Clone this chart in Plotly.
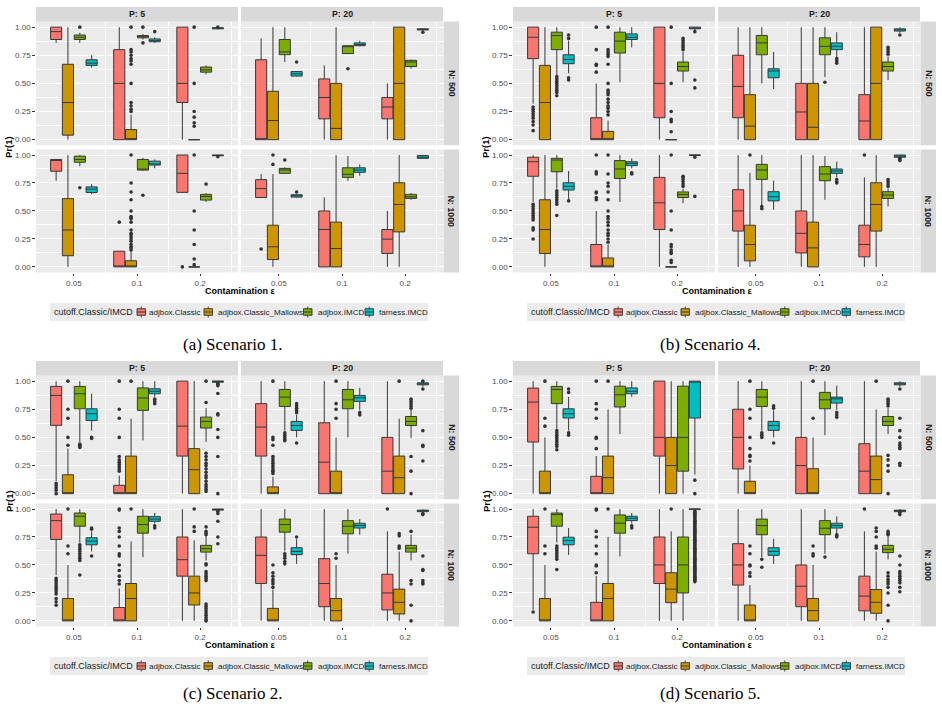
import plotly.graph_objects as go

W, H = 942, 713

# ---------------- categories / labels ----------------
EPS = ["0.05", "0.1", "0.2"]
METHODS = ["adjbox.Classic", "adjbox.Classic_Mallows", "adjbox.IMCD", "farness.IMCD"]
COLORS = ["#F8766D", "#CD9600", "#7CAE00", "#00BFC4"]
P_LABELS = ["P: 5", "P: 20"]
N_LABELS = ["N: 500", "N: 1000"]
CAPTIONS = ["(a) Scenario 1.", "(b) Scenario 4.", "(c) Scenario 2.", "(d) Scenario 5."]
LEGEND_TITLE = "cutoff.Classic/IMCD"
Y_TICKS = [0, 0.25, 0.5, 0.75, 1.0]
Y_TICKTEXT = ["0.00", "0.25", "0.50", "0.75", "1.00"]
Y_MINOR = [0.125, 0.375, 0.625, 0.875]

# Each box list: rows ordered eps (0.05, 0.1, 0.2) x method; (lower whisker, q1, median, q3, upper whisker)
# ---------------- Scenario 1 ----------------
s1_p5_n500_box = [
    (0.86, 0.89, 0.96, 1.00, 1.00), (0.00, 0.04, 0.33, 0.67, 1.00), (0.86, 0.89, 0.91, 0.93, 0.95), (0.64, 0.66, 0.68, 0.71, 0.75),
    (0.00, 0.00, 0.50, 0.80, 1.00), (0.00, 0.00, 0.00, 0.09, 0.22), (0.89, 0.905, 0.915, 0.925, 0.94), (0.86, 0.87, 0.88, 0.895, 0.91),
    (0.00, 0.33, 0.50, 1.00, 1.00), (0.00, 0.00, 0.00, 0.00, 0.00), (0.58, 0.60, 0.62, 0.645, 0.66), (0.98, 0.985, 0.99, 0.995, 0.995),
]
s1_p5_n500_out = [
    [], [], [1.0], [],
    [], [1.0, 0.8, 0.78, 0.75, 0.72, 0.70, 0.67, 0.50, 0.33, 0.30, 0.27, 0.25], [1.0, 0.86], [0.96],
    [], [1.0, 0.5, 0.25, 0.2, 0.15, 0.12], [], [1.0],
]
s1_p20_n500_box = [
    (0.00, 0.00, 0.00, 0.71, 0.90), (0.00, 0.00, 0.17, 0.43, 1.00), (0.69, 0.755, 0.78, 0.89, 1.00), (0.56, 0.565, 0.585, 0.605, 0.61),
    (0.00, 0.185, 0.375, 0.54, 0.66), (0.00, 0.00, 0.10, 0.50, 1.00), (0.76, 0.765, 0.83, 0.835, 0.84), (0.83, 0.835, 0.845, 0.86, 0.88),
    (0.00, 0.185, 0.29, 0.375, 0.50), (0.00, 0.00, 0.50, 1.00, 1.00), (0.63, 0.65, 0.69, 0.705, 0.71), (0.97, 0.975, 0.98, 0.985, 0.99),
]
s1_p20_n500_out = [[], [], [], [0.69], [], [], [0.63], [], [], [], [], [0.955]]
s1_p5_n1000_box = [
    (0.77, 0.855, 0.955, 0.96, 0.96), (0.00, 0.10, 0.33, 0.61, 1.00), (0.90, 0.935, 0.96, 0.99, 1.00), (0.65, 0.665, 0.695, 0.715, 0.74),
    (0.00, 0.00, 0.00, 0.14, 0.14), (0.00, 0.00, 0.00, 0.055, 0.135), (0.86, 0.865, 0.87, 0.96, 0.975), (0.88, 0.91, 0.92, 0.945, 0.96),
    (0.666, 0.666, 0.836, 1.00, 1.00), (0.00, 0.00, 0.00, 0.00, 0.00), (0.58, 0.597, 0.63, 0.648, 0.66), (0.99, 0.993, 0.997, 1.00, 1.00),
]
s1_p5_n1000_out = [
    [], [], [0.707], [],
    [0.40], [1.0, 0.75, 0.67, 0.60, 0.50, 0.45, 0.44, 0.43, 0.40, 0.33, 0.30, 0.29, 0.27, 0.25, 0.23, 0.20, 0.18, 0.17, 0.15], [0.64], [],
    [0.0], [1.0, 0.5, 0.33, 0.2, 0.07, 0.02], [0.74], [0.985],
]
s1_p20_n1000_box = [
    (0.62, 0.62, 0.70, 0.78, 0.83), (0.00, 0.066, 0.18, 0.373, 0.83), (0.83, 0.836, 0.866, 0.88, 0.89), (0.62, 0.624, 0.635, 0.645, 0.648),
    (0.00, 0.00, 0.334, 0.50, 0.62), (0.00, 0.00, 0.164, 0.40, 1.00), (0.77, 0.80, 0.827, 0.886, 0.99), (0.815, 0.845, 0.866, 0.886, 0.916),
    (0.00, 0.12, 0.248, 0.334, 0.50), (0.00, 0.313, 0.558, 0.752, 1.00), (0.60, 0.612, 0.627, 0.648, 0.66), (0.965, 0.97, 0.98, 0.995, 1.00),
]
s1_p20_n1000_out = [[0.16], [1.0, 0.916], [0.955], [0.67], [], [], [], [], [], [], [], []]

# ---------------- Scenario 4 ----------------
s4_p5_n500_box = [
    (0.32, 0.72, 0.91, 1.00, 1.00), (0.00, 0.00, 0.33, 0.66, 1.00), (0.57, 0.80, 0.925, 0.955, 1.00), (0.59, 0.675, 0.713, 0.754, 0.88),
    (0.00, 0.00, 0.00, 0.195, 0.50), (0.00, 0.00, 0.00, 0.074, 0.17), (0.51, 0.77, 0.876, 0.955, 1.00), (0.82, 0.89, 0.91, 0.94, 1.00),
    (0.00, 0.195, 0.50, 1.00, 1.00), (0.00, 0.00, 0.00, 0.00, 0.00), (0.51, 0.61, 0.65, 0.69, 0.78), (0.97, 0.985, 0.99, 1.00, 1.00),
]
s4_p5_n500_out = [
    [0.29, 0.27, 0.25, 0.23, 0.21, 0.19, 0.16, 0.13, 0.08], [], [0.56, 0.54, 0.52, 0.50, 0.48, 0.46, 0.44, 0.42, 0.39], [0.93, 0.90, 0.55, 0.53],
    [1.0, 0.80, 0.67, 0.66, 0.60], [1.0, 0.80, 0.78, 0.76, 0.74, 0.67, 0.50, 0.44, 0.42, 0.40, 0.36, 0.33, 0.30, 0.28, 0.25, 0.22], [], [],
    [], [1.0, 0.5, 0.25, 0.18, 0.16, 0.07], [0.80, 0.82, 0.84, 0.86, 0.88, 0.90], [0.96, 0.53, 0.46],
]
s4_p20_n500_box = [
    (0.00, 0.195, 0.473, 0.75, 1.00), (0.00, 0.00, 0.12, 0.40, 1.00), (0.50, 0.754, 0.86, 0.926, 1.00), (0.45, 0.55, 0.61, 0.63, 0.78),
    (0.00, 0.00, 0.246, 0.50, 1.00), (0.00, 0.00, 0.11, 0.50, 1.00), (0.556, 0.754, 0.83, 0.905, 1.00), (0.73, 0.80, 0.83, 0.86, 0.955),
    (0.00, 0.00, 0.166, 0.40, 1.00), (0.00, 0.00, 0.50, 1.00, 1.00), (0.53, 0.61, 0.65, 0.69, 0.74), (0.95, 0.965, 0.975, 0.985, 1.00),
]
s4_p20_n500_out = [[], [], [], [], [], [], [0.51], [0.72, 0.70, 0.68], [], [], [0.76, 0.78, 0.80, 0.82], [0.93]]
s4_p5_n1000_box = [
    (0.58, 0.81, 0.94, 0.98, 1.00), (0.00, 0.12, 0.334, 0.60, 1.00), (0.70, 0.85, 0.955, 0.97, 1.00), (0.60, 0.687, 0.72, 0.752, 0.857),
    (0.00, 0.00, 0.00, 0.20, 0.50), (0.00, 0.00, 0.00, 0.08, 0.20), (0.58, 0.79, 0.875, 0.95, 1.00), (0.88, 0.905, 0.925, 0.94, 0.97),
    (0.00, 0.334, 0.573, 0.80, 1.00), (0.00, 0.00, 0.00, 0.00, 0.00), (0.57, 0.62, 0.647, 0.67, 0.70), (0.99, 0.995, 1.00, 1.00, 1.00),
]
s4_p5_n1000_out = [
    [0.56, 0.54, 0.52, 0.50, 0.48, 0.46, 0.44, 0.42, 0.35, 0.33, 0.25], [], [0.68, 0.66, 0.64, 0.62, 0.60, 0.58, 0.56, 0.46], [0.59],
    [1.0, 0.85, 0.83, 0.67, 0.66, 0.62, 0.60], [1.0, 0.83, 0.75, 0.72, 0.67, 0.60, 0.50, 0.45, 0.43, 0.40, 0.37, 0.33, 0.30, 0.28, 0.25, 0.22], [], [0.84, 0.83],
    [], [1.0, 0.5, 0.33, 0.2, 0.18, 0.15, 0.13, 0.12, 0.06, 0.04], [0.72, 0.74, 0.76, 0.78, 0.80, 0.81], [0.98, 0.63],
]
s4_p20_n1000_box = [
    (0.00, 0.32, 0.50, 0.69, 1.00), (0.00, 0.054, 0.20, 0.373, 0.84), (0.55, 0.782, 0.866, 0.916, 1.00), (0.51, 0.59, 0.627, 0.672, 0.77),
    (0.00, 0.125, 0.30, 0.50, 1.00), (0.00, 0.00, 0.17, 0.40, 1.00), (0.60, 0.77, 0.83, 0.896, 0.99), (0.80, 0.836, 0.857, 0.875, 0.94),
    (0.00, 0.09, 0.20, 0.373, 0.80), (0.00, 0.32, 0.558, 0.752, 1.00), (0.54, 0.612, 0.642, 0.672, 0.70), (0.975, 0.98, 0.99, 1.00, 1.00),
]
s4_p20_n1000_out = [[], [1.0], [0.54, 0.52], [], [], [], [], [0.78, 0.76, 0.75], [1.0], [], [0.72, 0.74, 0.76, 0.78], [0.97, 0.96, 0.95]]

# ---------------- Scenario 2 ----------------
s2_p5_n500_box = [
    (0.11, 0.607, 0.873, 0.953, 1.00), (0.00, 0.00, 0.00, 0.168, 0.40), (0.46, 0.754, 0.888, 0.953, 1.00), (0.56, 0.65, 0.71, 0.754, 0.888),
    (0.00, 0.00, 0.00, 0.074, 0.16), (0.00, 0.00, 0.00, 0.334, 0.666), (0.473, 0.74, 0.85, 0.94, 1.00), (0.86, 0.888, 0.91, 0.932, 1.00),
    (0.00, 0.334, 0.60, 1.00, 1.00), (0.00, 0.00, 0.213, 0.40, 1.00), (0.46, 0.583, 0.642, 0.68, 0.76), (0.99, 0.99, 1.00, 1.00, 1.00),
]
s2_p5_n500_out = [
    [0.09, 0.07, 0.05, 0.03, 0.0], [1.0, 0.75, 0.67, 0.50, 0.43], [0.44, 0.43, 0.42, 0.41], [0.50, 0.49],
    [1.0, 0.75, 0.67, 0.50, 0.33, 0.30, 0.28, 0.26, 0.24, 0.22, 0.20], [1.0], [], [0.84, 0.82, 0.80],
    [], [], [1.0, 0.81, 0.36, 0.33, 0.30, 0.27, 0.25, 0.22, 0.19, 0.16, 0.14, 0.11, 0.08, 0.06, 0.04, 0.02],
    [0.98, 0.97, 0.96, 0.89, 0.71, 0.70, 0.57, 0.50, 0.33, 0.0],
]
s2_p20_n500_box = [
    (0.00, 0.334, 0.592, 0.80, 1.00), (0.00, 0.00, 0.00, 0.06, 0.15), (0.56, 0.775, 0.858, 0.926, 1.00), (0.50, 0.562, 0.606, 0.642, 0.70),
    (0.00, 0.00, 0.28, 0.63, 1.00), (0.00, 0.00, 0.00, 0.20, 0.50), (0.50, 0.754, 0.834, 0.926, 1.00), (0.74, 0.82, 0.852, 0.873, 0.94),
    (0.00, 0.00, 0.20, 0.50, 1.00), (0.00, 0.00, 0.142, 0.334, 0.666), (0.494, 0.606, 0.642, 0.686, 0.75), (0.95, 0.967, 0.975, 0.985, 0.99),
]
s2_p20_n500_out = [
    [], [1.0, 0.50, 0.48, 0.43, 0.33, 0.31, 0.29, 0.27, 0.25, 0.23, 0.21, 0.20, 0.18], [0.54, 0.52, 0.50, 0.48, 0.47], [0.80, 0.78, 0.76, 0.74, 0.72, 0.45],
    [], [1.0, 0.80, 0.75, 0.67], [], [0.72, 0.70],
    [], [1.0], [0.84, 0.82, 0.80, 0.78, 0.76, 0.33, 0.20, 0.0], [1.0, 0.93, 0.56, 0.43, 0.42, 0.29],
]
s2_p5_n1000_box = [
    (0.41, 0.728, 0.896, 0.955, 1.00), (0.00, 0.00, 0.00, 0.20, 0.50), (0.70, 0.846, 0.935, 0.964, 1.00), (0.62, 0.68, 0.713, 0.743, 0.80),
    (0.00, 0.00, 0.00, 0.12, 0.29), (0.00, 0.00, 0.20, 0.334, 0.71), (0.57, 0.784, 0.861, 0.935, 1.00), (0.87, 0.89, 0.91, 0.932, 0.965),
    (0.00, 0.40, 0.547, 0.75, 1.00), (0.00, 0.142, 0.25, 0.40, 0.72), (0.54, 0.615, 0.645, 0.675, 0.76), (0.99, 0.99, 0.995, 1.00, 1.00),
]
s2_p5_n1000_out = [
    [0.38, 0.36, 0.34, 0.32, 0.30, 0.28, 0.26, 0.24, 0.20, 0.17, 0.14], [1.0, 0.67, 0.60], [0.68, 0.66, 0.64, 0.62, 0.60, 0.58, 0.56, 0.54, 0.41], [0.83, 0.82, 0.58],
    [1.0, 0.99, 0.83, 0.80, 0.75, 0.67, 0.60, 0.58, 0.50, 0.45, 0.40, 0.36, 0.33], [1.0], [], [0.85, 0.83],
    [], [1.0, 0.84, 0.80],
    [0.84, 0.80, 0.78, 0.77, 0.51, 0.50, 0.44, 0.42, 0.40, 0.38, 0.36, 0.15, 0.13, 0.11, 0.09, 0.07, 0.05, 0.03, 0.01, 0.0],
    [0.98, 0.96, 0.89, 0.75, 0.69],
]
s2_p20_n1000_box = [
    (0.00, 0.334, 0.586, 0.75, 1.00), (0.00, 0.00, 0.00, 0.112, 0.28), (0.62, 0.793, 0.861, 0.91, 1.00), (0.51, 0.592, 0.621, 0.654, 0.73),
    (0.00, 0.127, 0.334, 0.556, 1.00), (0.00, 0.00, 0.092, 0.20, 0.50), (0.60, 0.778, 0.846, 0.896, 1.00), (0.77, 0.83, 0.852, 0.873, 0.91),
    (0.00, 0.098, 0.25, 0.417, 0.80), (0.00, 0.062, 0.166, 0.284, 0.62), (0.54, 0.615, 0.65, 0.675, 0.77), (0.97, 0.976, 0.985, 0.99, 0.995),
]
s2_p20_n1000_out = [
    [], [0.50, 0.43, 0.40, 0.37, 0.35, 0.33, 0.30], [0.60, 0.58, 0.56, 0.53, 0.51], [0.75],
    [], [0.60, 0.56], [], [],
    [1.0], [0.78, 0.76, 0.67, 0.65], [0.80, 0.36, 0.33, 0.14, 0.0], [0.96, 0.95, 0.58, 0.46, 0.45, 0.36, 0.34, 0.33],
]

# ---------------- Scenario 5 ----------------
s5_p5_n500_box = [
    (0.00, 0.459, 0.814, 0.938, 1.00), (0.00, 0.00, 0.00, 0.20, 0.50), (0.577, 0.80, 0.926, 0.953, 1.00), (0.56, 0.672, 0.71, 0.754, 0.86),
    (0.00, 0.00, 0.00, 0.154, 0.334), (0.00, 0.00, 0.142, 0.334, 0.75), (0.53, 0.77, 0.879, 0.955, 1.00), (0.86, 0.888, 0.91, 0.94, 1.00),
    (0.00, 0.334, 0.50, 1.00, 1.00), (0.00, 0.00, 0.25, 0.50, 1.00), (0.00, 0.20, 0.50, 0.955, 1.00), (0.17, 0.672, 1.00, 1.00, 1.00),
]
s5_p5_n500_out = [
    [], [1.0, 0.67, 0.60], [0.56, 0.54, 0.52, 0.50, 0.48, 0.46, 0.44, 0.42, 0.39], [0.90, 0.93, 0.54, 0.52],
    [1.0, 0.80, 0.75, 0.67, 0.50, 0.49, 0.40], [1.0], [], [],
    [], [], [], [0.12, 0.0],
]
s5_p20_n500_box = [
    (0.00, 0.22, 0.50, 0.75, 1.00), (0.00, 0.00, 0.00, 0.11, 0.25), (0.56, 0.775, 0.858, 0.926, 1.00), (0.50, 0.562, 0.606, 0.642, 0.74),
    (0.00, 0.00, 0.25, 0.50, 1.00), (0.00, 0.00, 0.00, 0.222, 0.50), (0.52, 0.754, 0.834, 0.90, 1.00), (0.74, 0.805, 0.843, 0.858, 0.96),
    (0.00, 0.00, 0.20, 0.444, 1.00), (0.00, 0.00, 0.125, 0.334, 0.75), (0.53, 0.606, 0.642, 0.686, 0.76), (0.95, 0.967, 0.975, 0.985, 1.00),
]
s5_p20_n500_out = [
    [], [1.0, 0.75, 0.67, 0.50, 0.40, 0.34, 0.33, 0.29], [0.54, 0.52, 0.50], [0.76, 0.78, 0.45],
    [], [1.0, 0.67], [], [0.72, 0.70, 0.68],
    [], [1.0], [0.84, 0.82, 0.80, 0.78, 0.34, 0.30, 0.25, 0.20, 0.0], [0.93, 0.67, 0.56, 0.50, 0.45, 0.43, 0.41, 0.40, 0.27, 0.25],
]
s5_p5_n1000_box = [
    (0.10, 0.60, 0.837, 0.935, 1.00), (0.00, 0.00, 0.00, 0.20, 0.50), (0.70, 0.846, 0.95, 0.964, 1.00), (0.59, 0.68, 0.719, 0.748, 0.83),
    (0.00, 0.00, 0.00, 0.166, 0.40), (0.00, 0.00, 0.20, 0.334, 0.75), (0.577, 0.784, 0.873, 0.947, 1.00), (0.87, 0.896, 0.917, 0.935, 0.965),
    (0.00, 0.334, 0.50, 0.75, 1.00), (0.00, 0.163, 0.284, 0.43, 0.80), (0.00, 0.25, 0.50, 0.75, 1.00), (0.99, 0.995, 1.00, 1.00, 1.00),
]
s5_p5_n1000_out = [
    [0.08], [1.0, 0.67, 0.60], [0.67, 0.65, 0.63, 0.61, 0.59, 0.57, 0.55, 0.46], [],
    [1.0, 0.99, 0.80, 0.75, 0.67, 0.60, 0.50, 0.49, 0.43], [1.0], [], [0.85, 0.83],
    [], [1.0], [],
    [0.98, 0.97, 0.96, 0.95, 0.94, 0.93, 0.92, 0.91, 0.90, 0.89, 0.88, 0.87, 0.86, 0.85, 0.84, 0.83, 0.82, 0.81,
     0.80, 0.79, 0.78, 0.77, 0.76, 0.75, 0.74, 0.73, 0.72, 0.71, 0.70, 0.69, 0.68, 0.67, 0.66, 0.65, 0.64, 0.63,
     0.62, 0.61, 0.60, 0.59, 0.58, 0.57, 0.56, 0.55, 0.54, 0.53, 0.52, 0.51, 0.50, 0.49, 0.48, 0.47, 0.46, 0.45,
     0.44, 0.43, 0.42, 0.41, 0.40, 0.39, 0.38, 0.37, 0.36, 0.35],
]
s5_p20_n1000_box = [
    (0.00, 0.32, 0.50, 0.69, 1.00), (0.00, 0.00, 0.00, 0.142, 0.32), (0.57, 0.77, 0.852, 0.91, 1.00), (0.51, 0.586, 0.621, 0.654, 0.734),
    (0.00, 0.127, 0.31, 0.50, 1.00), (0.00, 0.00, 0.092, 0.20, 0.50), (0.60, 0.77, 0.828, 0.896, 1.00), (0.78, 0.83, 0.852, 0.873, 0.935),
    (0.00, 0.09, 0.222, 0.40, 0.80), (0.00, 0.068, 0.166, 0.28, 0.62), (0.55, 0.61, 0.64, 0.675, 0.76), (0.975, 0.976, 0.985, 0.99, 1.00),
]
s5_p20_n1000_out = [
    [], [0.67, 0.60, 0.50, 0.49, 0.43, 0.40], [0.55, 0.48], [],
    [], [0.67, 0.60, 0.58], [0.57], [0.77, 0.76, 0.75],
    [1.0], [0.83, 0.80, 0.75, 0.67, 0.65], [0.80, 0.78, 0.77, 0.43, 0.40, 0.37, 0.35, 0.33, 0.30, 0.25, 0.14, 0.0],
    [0.97, 0.95, 0.58, 0.50, 0.44, 0.42, 0.40, 0.38, 0.36, 0.34, 0.30, 0.26],
]

# panel order on the page: (a) S1, (b) S4, (c) S2, (d) S5 ; facets [row N][col P]
PANELS = [
    [[(s1_p5_n500_box, s1_p5_n500_out), (s1_p20_n500_box, s1_p20_n500_out)],
     [(s1_p5_n1000_box, s1_p5_n1000_out), (s1_p20_n1000_box, s1_p20_n1000_out)]],
    [[(s4_p5_n500_box, s4_p5_n500_out), (s4_p20_n500_box, s4_p20_n500_out)],
     [(s4_p5_n1000_box, s4_p5_n1000_out), (s4_p20_n1000_box, s4_p20_n1000_out)]],
    [[(s2_p5_n500_box, s2_p5_n500_out), (s2_p20_n500_box, s2_p20_n500_out)],
     [(s2_p5_n1000_box, s2_p5_n1000_out), (s2_p20_n1000_box, s2_p20_n1000_out)]],
    [[(s5_p5_n500_box, s5_p5_n500_out), (s5_p20_n500_box, s5_p20_n500_out)],
     [(s5_p5_n1000_box, s5_p5_n1000_out), (s5_p20_n1000_box, s5_p20_n1000_out)]],
]

# ---------------- geometry (pixels) ----------------
OFFS = [(0, 0), (477, 0), (0, 354), (477, 354)]
COLS = [(36, 238), (241, 443)]
ROWS = [(21.5, 145.3), (149.4, 272.5)]
STRIP_TOP = (7, 21.5)
STRIP_RIGHT = (443.5, 459)
GROUP_OFF = [-0.281, -0.094, 0.094, 0.281]
BOX_W = 0.176
CAPTION_Y = [344, 344, 693, 693]
FONT = "Liberation Sans, Arial, sans-serif"
SERIF = "Liberation Serif, Times New Roman, serif"


def fx(x):
    return x / W


def fy(y):
    return 1 - y / H


fig = go.Figure()
layout = dict(
    width=W, height=H, margin=dict(l=0, r=0, t=0, b=0),
    paper_bgcolor="white", plot_bgcolor="#EBEBEB",
    boxmode="overlay", showlegend=False,
    font=dict(family=FONT, color="#1A1A1A"),
)
shapes, annotations = [], []

k = 0
for p, (dx, dy) in enumerate(OFFS):
    for r in range(2):
        for c in range(2):
            k += 1
            xn = "x" if k == 1 else f"x{k}"
            yn = "y" if k == 1 else f"y{k}"
            boxes, outs = PANELS[p][r][c]
            for m in range(4):
                stats = [boxes[i * 4 + m] for i in range(3)]
                fig.add_trace(go.Box(
                    x=[i + 1 + GROUP_OFF[m] for i in range(3)],
                    lowerfence=[s[0] for s in stats], q1=[s[1] for s in stats],
                    median=[s[2] for s in stats], q3=[s[3] for s in stats],
                    upperfence=[s[4] for s in stats],
                    orientation="v", width=BOX_W, whiskerwidth=0, boxpoints=False,
                    fillcolor=COLORS[m], line=dict(color="#383838", width=1),
                    showlegend=False, hoverinfo="skip", xaxis=xn, yaxis=yn,
                ))
            ox, oy = [], []
            for i in range(3):
                for m in range(4):
                    for v in outs[i * 4 + m]:
                        ox.append(i + 1 + GROUP_OFF[m])
                        oy.append(v)
            fig.add_trace(go.Scatter(
                x=ox, y=oy, mode="markers",
                marker=dict(size=3.6, color="#333333", line=dict(width=0)),
                showlegend=False, hoverinfo="skip", xaxis=xn, yaxis=yn,
            ))
            x0, x1 = COLS[c]
            y0, y1 = ROWS[r]
            layout["xaxis" if k == 1 else f"xaxis{k}"] = dict(
                domain=[fx(x0 + dx), fx(x1 + dx)], anchor=yn, range=[0.4, 3.6],
                showgrid=False, zeroline=False, showline=False, fixedrange=True,
                tickmode="array", tickvals=[1, 2, 3], ticktext=EPS,
                showticklabels=(r == 1), ticks="outside" if r == 1 else "",
                ticklen=2.7, tickwidth=0.8, tickcolor="#333333",
                tickfont=dict(size=8, color="#4D4D4D", family=FONT),
                minor=dict(tickmode="array", tickvals=[1.5, 2.5, 3.5], showgrid=True,
                           gridcolor="white", gridwidth=1.1, ticks=""),
            )
            layout["yaxis" if k == 1 else f"yaxis{k}"] = dict(
                domain=[fy(y1 + dy), fy(y0 + dy)], anchor=xn, range=[-0.05, 1.05],
                showgrid=True, gridcolor="white", gridwidth=1.1, zeroline=False,
                showline=False, fixedrange=True,
                tickmode="array", tickvals=Y_TICKS, ticktext=Y_TICKTEXT,
                showticklabels=(c == 0), ticks="outside" if c == 0 else "",
                ticklen=2.7, tickwidth=0.8, tickcolor="#333333",
                tickfont=dict(size=8, color="#4D4D4D", family=FONT),
                minor=dict(tickmode="array", tickvals=Y_MINOR, showgrid=True,
                           gridcolor="white", gridwidth=0.55, ticks=""),
            )

    # strips: top (P)
    for c in range(2):
        x0, x1 = COLS[c]
        shapes.append(dict(type="rect", xref="paper", yref="paper", layer="below",
                           x0=fx(x0 + dx), x1=fx(x1 + dx), y0=fy(STRIP_TOP[1] + dy), y1=fy(STRIP_TOP[0] + dy),
                           fillcolor="#D9D9D9", line=dict(width=0)))
        annotations.append(dict(x=fx((x0 + x1) / 2 + dx), y=fy((STRIP_TOP[0] + STRIP_TOP[1]) / 2 + dy),
                                xref="paper", yref="paper", text=f"<b>{P_LABELS[c]}</b>", showarrow=False,
                                xanchor="center", yanchor="middle",
                                font=dict(size=8.8, color="#1A1A1A", family=FONT)))
    # strips: right (N)
    for r in range(2):
        y0, y1 = ROWS[r]
        shapes.append(dict(type="rect", xref="paper", yref="paper", layer="below",
                           x0=fx(STRIP_RIGHT[0] + dx), x1=fx(STRIP_RIGHT[1] + dx), y0=fy(y1 + dy), y1=fy(y0 + dy),
                           fillcolor="#D9D9D9", line=dict(width=0)))
        annotations.append(dict(x=fx((STRIP_RIGHT[0] + STRIP_RIGHT[1]) / 2 + dx), y=fy((y0 + y1) / 2 + dy),
                                xref="paper", yref="paper", text=f"<b>{N_LABELS[r]}</b>", showarrow=False,
                                textangle=90, xanchor="center", yanchor="middle",
                                font=dict(size=8.8, color="#1A1A1A", family=FONT)))
    # axis titles
    annotations.append(dict(x=fx(9 + dx), y=fy(147 + dy), xref="paper", yref="paper",
                            text="<b>Pr(1)</b>", showarrow=False, textangle=-90,
                            xanchor="center", yanchor="middle", font=dict(size=9.5, color="#000000", family=FONT)))
    annotations.append(dict(x=fx(239.5 + dx), y=fy(291 + dy), xref="paper", yref="paper",
                            text="<b>Contamination ε</b>", showarrow=False,
                            xanchor="center", yanchor="middle", font=dict(size=9, color="#000000", family=FONT)))
    # legend
    ly0, ly1, lyc = 303 + dy, 321 + dy, 312 + dy
    shapes.append(dict(type="rect", xref="paper", yref="paper", x0=fx(50 + dx), x1=fx(428 + dx),
                       y0=fy(ly1), y1=fy(ly0), fillcolor="#EBEBEB", line=dict(width=0)))
    annotations.append(dict(x=fx(52 + dx), y=fy(lyc), xref="paper", yref="paper", text=LEGEND_TITLE,
                            showarrow=False, xanchor="left", yanchor="middle",
                            font=dict(size=9, color="#1A1A1A", family=FONT)))
    KEY_X = [137, 204, 303.5, 365]
    TEXT_X = [147, 216, 315.5, 377]
    for m in range(4):
        kx = KEY_X[m] + dx
        shapes.append(dict(type="line", xref="paper", yref="paper", x0=fx(kx + 4.25), x1=fx(kx + 4.25),
                           y0=fy(lyc + 5.5), y1=fy(lyc - 5.5), line=dict(color="#333333", width=0.9)))
        shapes.append(dict(type="rect", xref="paper", yref="paper", x0=fx(kx), x1=fx(kx + 8.5),
                           y0=fy(lyc + 3.3), y1=fy(lyc - 3.3), fillcolor=COLORS[m],
                           line=dict(color="#333333", width=0.9)))
        shapes.append(dict(type="line", xref="paper", yref="paper", x0=fx(kx), x1=fx(kx + 8.5),
                           y0=fy(lyc), y1=fy(lyc), line=dict(color="#333333", width=0.9)))
        annotations.append(dict(x=fx(TEXT_X[m] + dx), y=fy(lyc), xref="paper", yref="paper", text=METHODS[m],
                                showarrow=False, xanchor="left", yanchor="middle",
                                font=dict(size=8.0, color="#1A1A1A", family=FONT)))
    # caption
    annotations.append(dict(x=fx(233 + dx), y=fy(CAPTION_Y[p]), xref="paper", yref="paper", text=CAPTIONS[p],
                            showarrow=False, xanchor="center", yanchor="middle",
                            font=dict(size=17, color="#000000", family=SERIF)))

layout["shapes"] = shapes
layout["annotations"] = annotations
fig.update_layout(**layout)
fig.write_html("out.html")
